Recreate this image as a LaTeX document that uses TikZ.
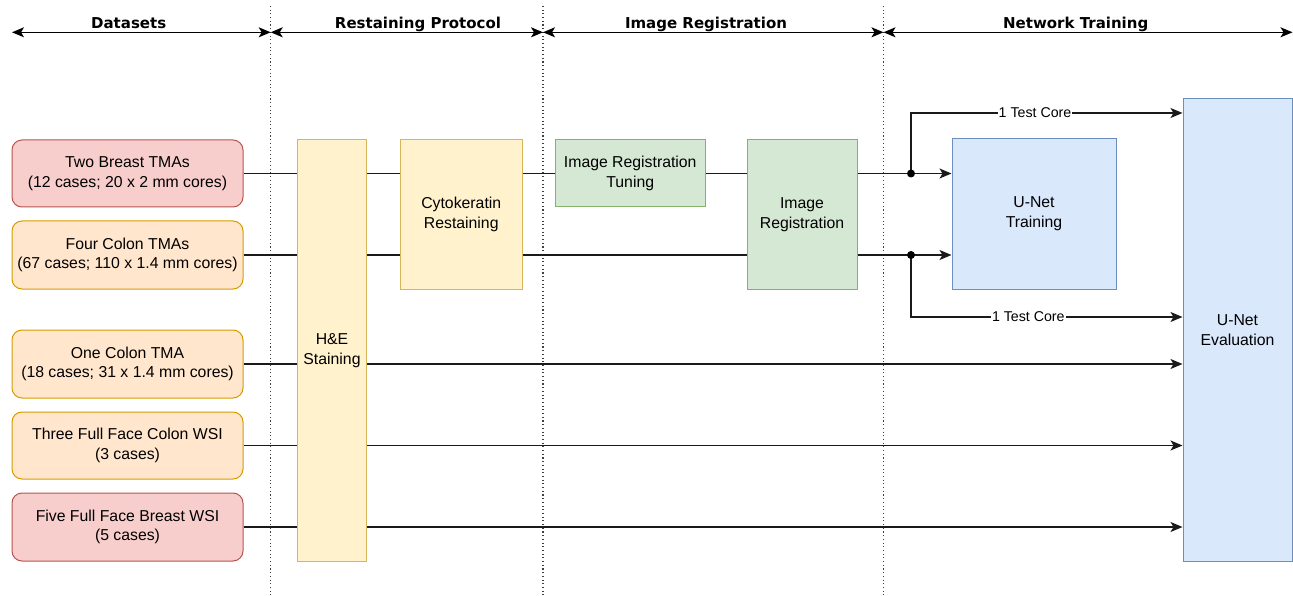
\documentclass[tikz,border=0pt]{standalone}
\usepackage{fontspec}
\setmainfont{Liberation Sans}
\newfontfamily\hdrfont{DejaVu Sans}
\usetikzlibrary{arrows.meta}
\definecolor{redF}{HTML}{F8CECC}\definecolor{redD}{HTML}{B85450}
\definecolor{orgF}{HTML}{FFE6CC}\definecolor{orgD}{HTML}{D79B00}
\definecolor{ylwF}{HTML}{FFF2CC}\definecolor{ylwD}{HTML}{D6B656}
\definecolor{grnF}{HTML}{D5E8D4}\definecolor{grnD}{HTML}{82B366}
\definecolor{bluF}{HTML}{DAE8FC}\definecolor{bluD}{HTML}{6C8EBF}
\definecolor{lineC}{HTML}{1A1A1A}
\tikzset{
  box/.style={draw, line width=1pt, align=center, inner sep=0pt,
    font=\fontsize{15.8}{19.7}\selectfont},
  redbox/.style={box, fill=redF, draw=redD, rounded corners=10pt},
  orgbox/.style={box, fill=orgF, draw=orgD, rounded corners=10pt},
  ylwbox/.style={box, fill=ylwF, draw=ylwD},
  grnbox/.style={box, fill=grnF, draw=grnD},
  blubox/.style={box, fill=bluF, draw=bluD},
  conn/.style={draw=lineC, line width=1.3pt},
  arr/.style={conn, -{Stealth[length=12pt,width=10pt,inset=3pt]}},
  harr/.style={draw=black, line width=1.3pt,
    {Stealth[length=12pt,width=10pt,inset=3pt]}-{Stealth[length=12pt,width=10pt,inset=3pt]}},
  hdr/.style={font=\hdrfont\bfseries\fontsize{15}{18}\selectfont, anchor=base, inner sep=0pt},
  sep/.style={draw=black!75, line width=1.1pt, dash pattern=on 1.1pt off 2.6pt},
  lbl/.style={fill=white, inner sep=1pt, font=\fontsize{14.2}{16}\selectfont},
  dot/.style={circle, fill=black, inner sep=0pt, minimum size=8pt}
}
\begin{document}
\begin{tikzpicture}[x=1pt, y=-1pt]
\useasboundingbox (0,0) rectangle (1293,596);
% separators
\draw[sep] (270.7,6) -- (270.7,596);
\draw[sep] (543,6) -- (543,596);
\draw[sep] (883.5,6) -- (883.5,596);
% header
\coordinate (h0) at (12,32.3);
\coordinate (h1) at (270.7,32.3);
\coordinate (h2) at (543,32.3);
\coordinate (h3) at (883.5,32.3);
\coordinate (h4) at (1292.5,32.3);
\draw[harr] (h0) -- (h1);
\draw[harr] (h1) -- (h2);
\draw[harr] (h2) -- (h3);
\draw[harr] (h3) -- (h4);
\node[hdr] (t0) at (128.7,28.5) {Datasets};
\node[hdr] (t1) at (418,28.5) {Restaining Protocol};
\node[hdr] (t2) at (706,28.5) {Image Registration};
\node[hdr] (t3) at (1075.7,28.5) {Network Training};
% nodes
\node[redbox, minimum width=231pt, minimum height=67pt] (d1) at (127.5,173.5) {Two Breast TMAs\\(12 cases; 20 x 2 mm cores)};
\node[orgbox, minimum width=231pt, minimum height=68pt] (d2) at (127.5,255) {Four Colon TMAs\\(67 cases; 110 x 1.4 mm cores)};
\node[orgbox, minimum width=231pt, minimum height=68pt] (d3) at (127.5,364) {One Colon TMA\\(18 cases; 31 x 1.4 mm cores)};
\node[orgbox, minimum width=231pt, minimum height=67pt] (d4) at (127.5,445.5) {Three Full Face Colon WSI\\(3 cases)};
\node[redbox, minimum width=231pt, minimum height=68pt] (d5) at (127.5,527) {Five Full Face Breast WSI\\(5 cases)};
\node[ylwbox, minimum width=69pt, minimum height=421pt] (he) at (332,350.5) {H\&E\\Staining};
\node[ylwbox, minimum width=122.5pt, minimum height=149pt] (cyto) at (461.25,214.5) {Cytokeratin\\Restaining};
\node[grnbox, minimum width=150.5pt, minimum height=67pt] (irt) at (630.25,173.5) {Image Registration\\Tuning};
\node[grnbox, minimum width=110pt, minimum height=149pt] (ir) at (802,214.5) {Image\\Registration};
\node[blubox, minimum width=164pt, minimum height=150pt] (train) at (1034,214) {U-Net\\Training};
\node[blubox, minimum width=109pt, minimum height=462pt] (eval) at (1237.5,330) {U-Net\\Evaluation};
% row 1
\draw[conn] (d1.east) -- (he.west |- d1.east);
\draw[conn] (he.east |- d1.east) -- (cyto.west |- d1.east);
\draw[conn] (cyto.east |- d1.east) -- (irt.west);
\draw[conn] (irt.east) -- (ir.west |- irt.east);
\coordinate (j1) at (911,173.5);
\coordinate (u1) at (911,113);
\draw[arr] (ir.east |- j1) -- (j1) -- (train.west |- j1);
\draw[arr] (j1) -- (u1) -- (eval.west |- u1);
\node[lbl] (l1) at (1035,113) {1 Test Core};
\node[dot] (n1) at (j1) {};
% row 2
\draw[conn] (d2.east) -- (he.west |- d2.east);
\draw[conn] (he.east |- d2.east) -- (cyto.west |- d2.east);
\draw[conn] (cyto.east |- d2.east) -- (ir.west |- d2.east);
\coordinate (j2) at (911,255);
\coordinate (u2) at (911,317);
\draw[arr] (ir.east |- j2) -- (j2) -- (train.west |- j2);
\draw[arr] (j2) -- (u2) -- (eval.west |- u2);
\node[lbl] (l2) at (1028.3,317) {1 Test Core};
\node[dot] (n2) at (j2) {};
% rows 3-5
\draw[conn] (d3.east) -- (he.west |- d3.east);
\draw[arr] (he.east |- d3.east) -- (eval.west |- d3.east);
\draw[conn] (d4.east) -- (he.west |- d4.east);
\draw[arr] (he.east |- d4.east) -- (eval.west |- d4.east);
\draw[conn] (d5.east) -- (he.west |- d5.east);
\draw[arr] (he.east |- d5.east) -- (eval.west |- d5.east);
\end{tikzpicture}
\end{document}
